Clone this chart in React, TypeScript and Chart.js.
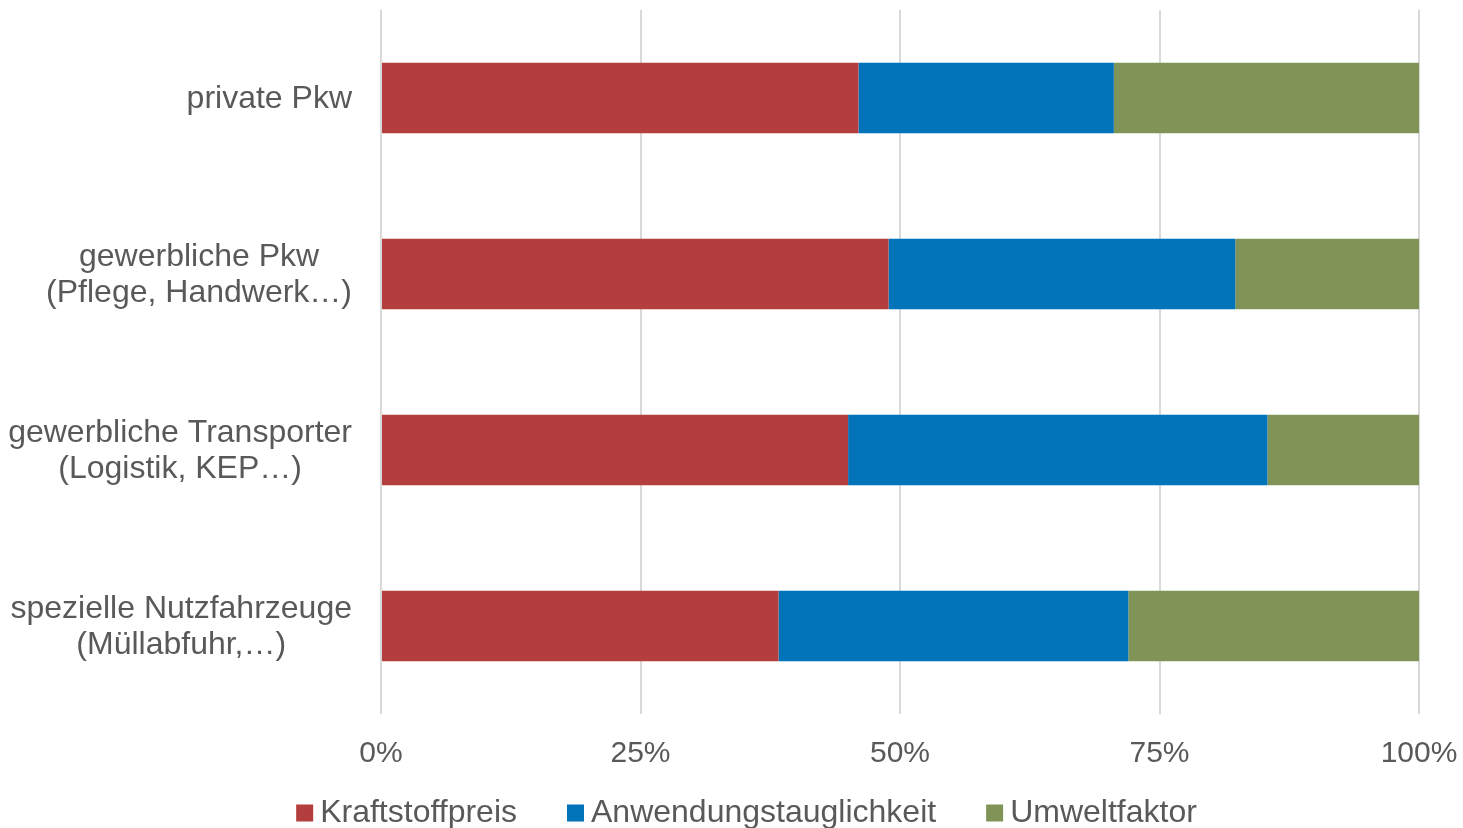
import React, { useEffect, useRef } from "react";
import { Chart, registerables } from "chart.js";

Chart.register(...registerables);

const categories: string[][] = [
  ["private Pkw"],
  ["gewerbliche Pkw", "(Pflege, Handwerk…)"],
  ["gewerbliche Transporter", "(Logistik, KEP…)"],
  ["spezielle Nutzfahrzeuge", "(Müllabfuhr,…)"],
];
const seriesNames = ["Kraftstoffpreis", "Anwendungstauglichkeit", "Umweltfaktor"];
const kraftstoffpreis = [46.0, 48.9, 45.0, 38.3];
const anwendungstauglichkeit = [24.6, 33.4, 40.4, 33.7];
const umweltfaktor = [29.4, 17.7, 14.6, 28.0];
const xTickValues = [0, 25, 50, 75, 100];

const TEXT = "#595959";
const FONT = "'Liberation Sans', Arial, sans-serif";
const COLORS = ["#B43E3E", "#0073B9", "#819457"];

export default function App() {
  const ref = useRef<HTMLCanvasElement>(null);

  useEffect(() => {
    if (!ref.current) return;

    const categoryLabels = {
      id: "categoryLabels",
      afterDraw(chart: any) {
        const ctx = chart.ctx;
        const yScale = chart.scales.y;
        const rightEdge = chart.chartArea.left - 29;
        const lineH = 36;
        ctx.save();
        ctx.font = `32px ${FONT}`;
        ctx.fillStyle = TEXT;
        ctx.textAlign = "center";
        ctx.textBaseline = "middle";
        categories.forEach((lines, i) => {
          const cy = yScale.getPixelForValue(i) + 1;
          const w = Math.max(...lines.map((l) => ctx.measureText(l).width));
          const cx = rightEdge - w / 2;
          lines.forEach((l, j) => {
            ctx.fillText(l, cx, cy + (j - (lines.length - 1) / 2) * lineH);
          });
        });
        ctx.restore();
      },
    };

    const bottomLegend = {
      id: "bottomLegend",
      afterDraw(chart: any) {
        const ctx = chart.ctx;
        ctx.save();
        ctx.font = `32px ${FONT}`;
        const box = 17;
        const gapText = 7;
        const gapItem = 50;
        const items = chart.data.datasets.map((ds: any) => ({
          text: ds.label,
          color: ds.backgroundColor,
          w: ctx.measureText(ds.label).width,
        }));
        const total =
          items.reduce((s: number, it: any) => s + box + gapText + it.w, 0) +
          gapItem * (items.length - 1);
        let x = chart.width / 2 + 15 - total / 2;
        const cy = chart.height - 15;
        ctx.textBaseline = "middle";
        ctx.textAlign = "left";
        items.forEach((it: any) => {
          ctx.fillStyle = it.color;
          ctx.fillRect(x, cy - box / 2, box, box);
          x += box + gapText;
          ctx.fillStyle = TEXT;
          ctx.fillText(it.text, x, cy);
          x += it.w + gapItem;
        });
        ctx.restore();
      },
    };

    const chart = new Chart(ref.current, {
      type: "bar",
      data: {
        labels: categories.map((c) => c.join(" ")),
        datasets: [
          { label: seriesNames[0], data: kraftstoffpreis, backgroundColor: COLORS[0] },
          { label: seriesNames[1], data: anwendungstauglichkeit, backgroundColor: COLORS[1] },
          { label: seriesNames[2], data: umweltfaktor, backgroundColor: COLORS[2] },
        ],
      },
      options: {
        indexAxis: "y",
        animation: false,
        responsive: true,
        maintainAspectRatio: false,
        layout: { padding: { top: 10, left: 381, right: 44, bottom: 34 } },
        datasets: {
          bar: { categoryPercentage: 0.4, barPercentage: 1, borderWidth: 0 },
        },
        plugins: {
          legend: { display: false },
          tooltip: { enabled: false },
        },
        scales: {
          x: {
            stacked: true,
            min: 0,
            max: 100,
            afterBuildTicks(scale: any) {
              scale.ticks = xTickValues.map((v) => ({ value: v }));
            },
            afterFit(scale: any) {
              scale.paddingRight = 0;
              scale.paddingLeft = 0;
            },
            ticks: {
              callback: (v: any) => `${v}%`,
              color: TEXT,
              font: { size: 30, family: FONT },
              padding: 22,
              maxRotation: 0,
            },
            grid: { color: "#D9D9D9", lineWidth: 2, drawTicks: false },
            border: { display: false },
          },
          y: {
            stacked: true,
            display: false,
          },
        },
      },
      plugins: [categoryLabels, bottomLegend],
    });

    return () => chart.destroy();
  }, []);

  return (
    <div style={{ position: "absolute", left: 0, top: 0, width: 1463, height: 828, background: "#fff" }}>
      <canvas ref={ref} />
    </div>
  );
}
